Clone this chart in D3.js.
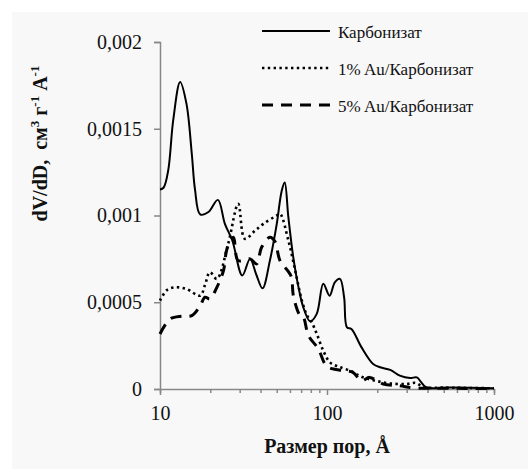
<!DOCTYPE html>
<html>
<head>
  <meta charset="utf-8">
  <title>dV/dD vs pore size</title>
  <script src="https://d3js.org/d3.v7.min.js"></script>
  <style>
    body { margin: 0; background: #fff; }
    text { font-family: "Liberation Serif", "Times New Roman", serif; }
  </style>
</head>
<body>
  <svg width="528" height="470"></svg>

  <script>
    // Pore size distributions (D in Å, dV/dD)
    const carbon = [
      [10, 0.00115], [10.5, 0.00116], [11.2, 0.00126], [12.0, 0.00155], [13.2, 0.00177],
      [14.4, 0.001645], [15.5, 0.001356], [16.2, 0.00115], [17.4, 0.001006], [19.5, 0.00102],
      [22.2, 0.00109], [24.5, 0.00095], [27.1, 0.000856], [31.1, 0.000654], [34.6, 0.00075],
      [37.7, 0.00066], [41.1, 0.00058], [45.5, 0.00074], [50, 0.00095], [53.5, 0.00114],
      [55.8, 0.00119], [58.7, 0.00099], [62.8, 0.00076], [67.2, 0.000596], [72.2, 0.00047],
      [79.2, 0.00039], [86.8, 0.000433], [95, 0.000606], [103.6, 0.000538], [111.4, 0.000615],
      [119.6, 0.000635], [126.6, 0.000529], [131.7, 0.000355], [140, 0.000346], [161, 0.00024],
      [189, 0.000144], [208, 0.000125], [239, 0.00011], [273, 0.000077], [314, 0.000063],
      [345, 0.000067], [366, 0.00004], [392, 0.00001], [550, 0.000008], [1000, 0.000005]
    ];
    const au1 = [
      [10, 0.000509], [11, 0.00057], [12.3, 0.000586], [14.4, 0.000577], [17.4, 0.000538],
      [18.6, 0.0006], [19.9, 0.000673], [21.9, 0.000635], [25.6, 0.000837], [29.4, 0.001067],
      [32.2, 0.000866], [37.1, 0.000913], [41.6, 0.000952], [50, 0.001], [52.3, 0.00101],
      [58.7, 0.000856], [64.5, 0.000683], [70.7, 0.00051], [76, 0.000423], [81, 0.000384],
      [86.9, 0.000317], [95, 0.000221], [104, 0.000154], [117, 0.000129], [137, 0.000106],
      [161, 0.000071], [194, 0.000048], [239, 0.000032], [300, 0.000029], [340, 0.000035],
      [380, 0.00001], [500, 0.000008], [1000, 0.000004]
    ];
    const au5 = [
      [10, 0.000317], [11.5, 0.000404], [13.5, 0.00042], [15.5, 0.000423], [17.4, 0.00048],
      [18.6, 0.000529], [19.9, 0.000519], [21.9, 0.000586], [24.0, 0.000683], [25.2, 0.000808],
      [27.5, 0.000875], [29.4, 0.00074], [34.6, 0.00075], [37.9, 0.000721], [40.6, 0.000817],
      [45.5, 0.000875], [48.8, 0.00085], [52.3, 0.00074], [60.7, 0.000654], [63.0, 0.000533],
      [69.0, 0.000423], [72.2, 0.000413], [77.4, 0.000308], [88.8, 0.000231], [97.2, 0.000144],
      [104, 0.000121], [125, 0.000106], [143, 0.000096], [161, 0.000048], [180, 0.000067],
      [217, 0.000029], [273, 0.000019], [329, 0.000006], [500, 0.000004], [1000, 0.000003]
    ];

    const seriesNames = ["Карбонизат", "1% Au/Карбонизат", "5% Au/Карбонизат"];
    const yTicks = [0, 0.0005, 0.001, 0.0015, 0.002];
    const yTickLabels = ["0", "0,0005", "0,001", "0,0015", "0,002"];
    const xMajor = [10, 100, 1000];

    const svg = d3.select("svg");

    // Chart background
    svg.append("rect")
      .attr("x", 12).attr("y", 12)
      .attr("width", 516).attr("height", 457)
      .attr("fill", "#f8f8f8");

    const x = d3.scaleLog().domain([10, 1000]).range([160, 494]);
    const y = d3.scaleLinear().domain([0, 0.002]).range([389, 42]);

    // Y axis
    const yAxis = svg.append("g")
      .attr("transform", "translate(160,0)")
      .call(d3.axisLeft(y)
        .tickValues(yTicks)
        .tickFormat((d, i) => yTickLabels[i])
        .tickSizeOuter(0)
        .tickSize(6)
        .tickPadding(12));

    // X axis (log, minor ticks without labels)
    const xTickVals = [];
    [10, 100].forEach(b => { for (let k = 1; k < 10; k++) xTickVals.push(b * k); });
    xTickVals.push(1000);
    const xAxis = svg.append("g")
      .attr("transform", "translate(0,389)")
      .call(d3.axisBottom(x)
        .tickValues(xTickVals)
        .tickFormat(d => xMajor.includes(d) ? String(d) : "")
        .tickSizeOuter(0)
        .tickSize(4)
        .tickPadding(13));

    [yAxis, xAxis].forEach(g => {
      g.select(".domain").attr("stroke", "#888").attr("stroke-width", 1.5);
      g.selectAll(".tick line").attr("stroke", "#888").attr("stroke-width", 1.5);
      g.selectAll(".tick text")
        .attr("font-size", 20)
        .attr("font-family", "Liberation Serif, serif")
        .attr("fill", "#111");
    });
    xAxis.selectAll(".tick").filter(d => xMajor.includes(d))
      .select("line").attr("y2", 6);

    // Lines
    const line = d3.line()
      .x(d => x(d[0]))
      .y(d => y(d[1]))
      .curve(d3.curveCatmullRom.alpha(0.5));

    const styles = [
      { data: carbon, width: 2, dash: null, cap: "butt" },
      { data: au1, width: 2.6, dash: "2.4 3.4", cap: "butt" },
      { data: au5, width: 3, dash: "11 8", cap: "butt" }
    ];

    styles.forEach(s => {
      svg.append("path")
        .datum(s.data)
        .attr("fill", "none")
        .attr("stroke", "#000")
        .attr("stroke-width", s.width)
        .attr("stroke-dasharray", s.dash)
        .attr("stroke-linecap", s.cap)
        .attr("stroke-linejoin", "round")
        .attr("d", line);
    });

    // Legend
    const legend = svg.append("g");
    const legendY = [31, 68, 105];
    styles.forEach((s, i) => {
      legend.append("line")
        .attr("x1", 262).attr("x2", 330)
        .attr("y1", legendY[i]).attr("y2", legendY[i])
        .attr("stroke", "#000")
        .attr("stroke-width", s.width)
        .attr("stroke-dasharray", s.dash);
      legend.append("text")
        .attr("x", 338).attr("y", legendY[i] + 6.5)
        .attr("font-size", 17)
        .attr("fill", "#111")
        .text(seriesNames[i]);
    });

    // Axis titles
    svg.append("text")
      .attr("x", 327).attr("y", 453)
      .attr("text-anchor", "middle")
      .attr("font-size", 20)
      .attr("font-weight", "bold")
      .attr("fill", "#111")
      .text("Размер пор, Å");

    const yt = svg.append("text")
      .attr("transform", "translate(47,143.5) rotate(-90)")
      .attr("text-anchor", "middle")
      .attr("font-size", 20)
      .attr("font-weight", "bold")
      .attr("fill", "#111")
      .attr("xml:space", "preserve");
    yt.append("tspan").text("dV/dD,  см");
    yt.append("tspan").attr("font-size", 13).attr("dy", -8).text("3");
    yt.append("tspan").attr("dy", 8).text(" г");
    yt.append("tspan").attr("font-size", 13).attr("dy", -8).text("-1");
    yt.append("tspan").attr("dy", 8).text(" А");
    yt.append("tspan").attr("font-size", 13).attr("dy", -8).text("-1");
  </script>
</body>
</html>
